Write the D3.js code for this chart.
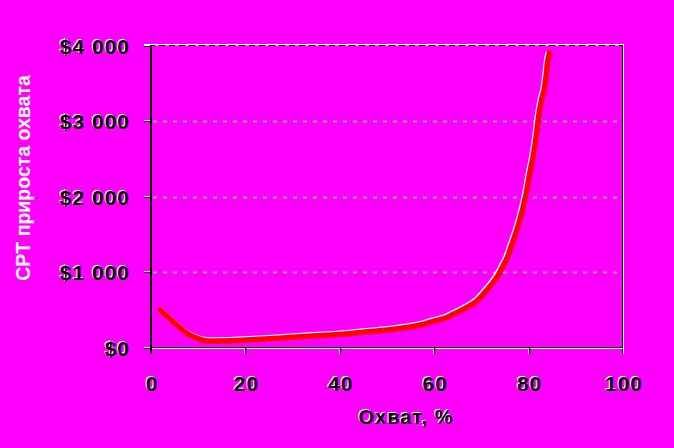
<!DOCTYPE html>
<html><head><meta charset="utf-8">
<script src="https://cdn.jsdelivr.net/npm/d3@7"></script>
<style>html,body{margin:0;padding:0;background:#ff00ff;}svg{display:block;}</style>
</head><body>
<svg id="chart" width="674" height="448"></svg>
<script>
const coverage = [2, 5, 8, 10, 12, 14, 17, 20, 23, 27, 31.5, 36, 42, 46, 50.5, 54, 56, 58, 60.5, 62.5, 64.5, 67, 69, 70.5, 72.4, 73.5, 74.5, 75.5, 76.5, 77.5, 78.5, 79.5, 80.2, 81, 81.6, 82.2, 82.8, 83.3, 83.7, 84, 84.4];
const cpt = [500, 330, 180, 125, 93, 93, 95, 105, 115, 130, 150, 165, 190, 215, 240, 270, 290, 320, 365, 400, 460, 540, 620, 720, 860, 960, 1075, 1200, 1380, 1560, 1780, 2050, 2300, 2550, 2800, 3100, 3300, 3420, 3600, 3770, 3900];
const xTicks = [0, 20, 40, 60, 80, 100];
const yTicks = [0, 1000, 2000, 3000, 4000];
const yTickLabels = ["$0", "$1 000", "$2 000", "$3 000", "$4 000"];
const gridValues = [1000, 2000, 3000];
const xTitle = "Охват, %";
const yTitle = "CPT прироста охвата";

const svg = d3.select("#chart");
const L = 151, R = 623, T = 45.5, B = 348;
const x = d3.scaleLinear().domain([0, 100]).range([L, R]);
const y = d3.scaleLinear().domain([0, 4000]).range([B, T]);
const font = "'Liberation Sans', Arial, sans-serif";

// gridlines
svg.append("g").selectAll("line").data(gridValues).join("line")
  .attr("x1", L + 2).attr("x2", R - 1)
  .attr("y1", d => Math.round(y(d)) + 0.5).attr("y2", d => Math.round(y(d)) + 0.5)
  .attr("stroke", "#a0a0a0").attr("stroke-width", 2).attr("stroke-dasharray", "4,6");

// top border: white then black
svg.append("line").attr("x1", 144).attr("x2", R + 1).attr("y1", 44.5).attr("y2", 44.5).attr("stroke", "#fff").attr("stroke-width", 1);
svg.append("line").attr("x1", 144).attr("x2", R).attr("y1", 45.5).attr("y2", 45.5).attr("stroke", "#000").attr("stroke-width", 1);
svg.append("g").selectAll("line").data([4000]).join("line")
  .attr("x1", L + 4).attr("x2", R - 2).attr("y1", 45.5).attr("y2", 45.5)
  .attr("stroke", "#a0a0a0").attr("stroke-dasharray", "4,6");

// right border
svg.append("line").attr("x1", R - 0.5).attr("x2", R - 0.5).attr("y1", 45).attr("y2", 354).attr("stroke", "#000");
svg.append("line").attr("x1", R + 0.5).attr("x2", R + 0.5).attr("y1", 44).attr("y2", 354).attr("stroke", "#fff");

// x axis baseline
svg.append("line").attr("x1", 144).attr("x2", R).attr("y1", 347.5).attr("y2", 347.5).attr("stroke", "#000");
svg.append("line").attr("x1", 144).attr("x2", R).attr("y1", 348.5).attr("y2", 348.5).attr("stroke", "#fff");

// y tick marks
svg.append("g").selectAll("line").data(yTicks).join("line")
  .attr("x1", 144).attr("x2", L)
  .attr("y1", d => Math.round(y(d)) - 0.5).attr("y2", d => Math.round(y(d)) - 0.5)
  .attr("stroke", "#fff");
svg.append("g").selectAll("line").data(yTicks).join("line")
  .attr("x1", 144).attr("x2", L)
  .attr("y1", d => Math.round(y(d)) + 0.5).attr("y2", d => Math.round(y(d)) + 0.5)
  .attr("stroke", "#000");

// x tick marks
svg.append("g").selectAll("line").data(xTicks.slice(1, -1)).join("line")
  .attr("x1", d => Math.round(x(d)) - 0.5).attr("x2", d => Math.round(x(d)) - 0.5)
  .attr("y1", 348).attr("y2", 354).attr("stroke", "#fff");
svg.append("g").selectAll("line").data(xTicks.slice(1, -1)).join("line")
  .attr("x1", d => Math.round(x(d)) + 0.5).attr("x2", d => Math.round(x(d)) + 0.5)
  .attr("y1", 348).attr("y2", 354).attr("stroke", "#000").attr("stroke-width", 1.5);

// y axis line
svg.append("line").attr("x1", L).attr("x2", L).attr("y1", 45).attr("y2", 354).attr("stroke", "#000").attr("stroke-width", 2);

// data line
const line = d3.line().x((d, i) => x(coverage[i])).y(d => y(d)).curve(d3.curveMonotoneX);
svg.append("path").datum(cpt).attr("d", line).attr("transform", "translate(-1,-1)")
  .attr("fill", "none").attr("stroke", "#fff").attr("stroke-width", 5.5).attr("stroke-linejoin", "round");
svg.append("path").datum(cpt).attr("d", line)
  .attr("fill", "none").attr("stroke", "#ff0000").attr("stroke-width", 5.5).attr("stroke-linecap", "round").attr("stroke-linejoin", "round");

// shadowed text helper
function stext(g, xx, yy, txt, anchor, front, back, dx, dy, size) {
  g.append("text").attr("x", xx + dx).attr("y", yy + dy).attr("text-anchor", anchor)
    .attr("font-family", font).attr("font-weight", "bold").attr("font-size", size)
    .attr("letter-spacing", 1).attr("fill", back).text(txt);
  g.append("text").attr("x", xx).attr("y", yy).attr("text-anchor", anchor)
    .attr("font-family", font).attr("font-weight", "bold").attr("font-size", size)
    .attr("letter-spacing", 1).attr("fill", front).text(txt);
}

// y tick labels
const gy = svg.append("g");
yTicks.forEach((v, i) => {
  stext(gy, 130, y(v) + 8, yTickLabels[i], "end", "#000", "#fff", -1, -1, "21px");
});

// x tick labels
const gx = svg.append("g");
xTicks.forEach(v => {
  stext(gx, x(v) + 1, 391, String(v), "middle", "#000", "#fff", -1, -1, "21px");
});

// x title
stext(svg.append("g"), 406, 424, xTitle, "middle", "#000", "#fff", -1, -1, "20px");

// y title
svg.append("text").attr("transform", "translate(30,178) rotate(-90)")
  .attr("text-anchor", "middle").attr("font-family", font).attr("font-weight", "bold")
  .attr("font-size", "19.5px").attr("fill", "#fff").text(yTitle);
</script>
</body></html>
